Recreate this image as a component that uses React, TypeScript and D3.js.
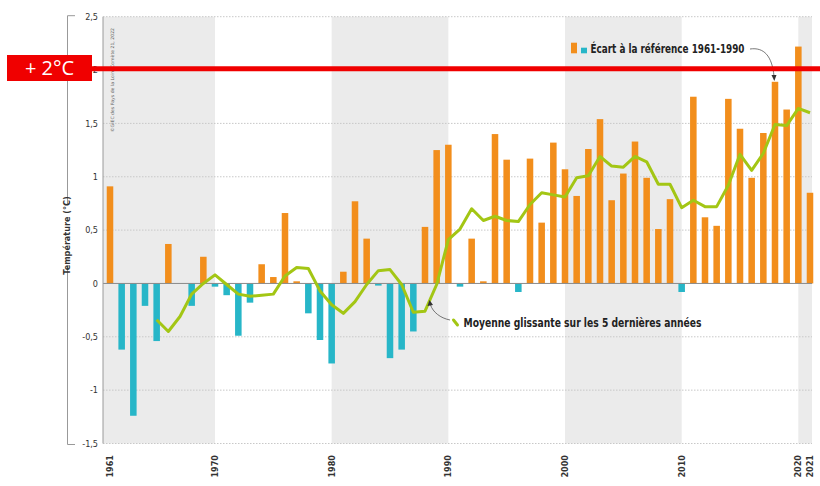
import * as d3 from 'd3';
import * as React from 'react';

// Écart de température annuel par rapport à la référence 1961-1990 (°C)
const firstYear = 1961;
const anomalies: number[] = [
    0.91, -0.62, -1.24, -0.21, -0.54, 0.37, 0.0, -0.21, 0.25, -0.03,
    -0.11, -0.49, -0.18, 0.18, 0.06, 0.66, 0.02, -0.28, -0.53, -0.75,
    0.11, 0.77, 0.42, -0.02, -0.70, -0.62, -0.45, 0.53, 1.25, 1.30,
    -0.03, 0.42, 0.02, 1.40, 1.16, -0.08, 1.17, 0.57, 1.32, 1.07,
    0.82, 1.26, 1.54, 0.78, 1.03, 1.33, 0.99, 0.51, 0.79, -0.08,
    1.75, 0.62, 0.54, 1.73, 1.45, 0.99, 1.41, 1.89, 1.63, 2.22,
    0.85,
];

// Moyenne glissante sur 5 ans, à partir de 1965
const movingStart = 1965;
const movingAverage: number[] = [
    -0.34, -0.45, -0.31, -0.10, 0.00, 0.08, -0.01, -0.10, -0.12, -0.11,
    -0.10, 0.07, 0.15, 0.14, -0.07, -0.20, -0.28, -0.17, -0.01, 0.12,
    0.13, -0.01, -0.27, -0.26, -0.01, 0.41, 0.51, 0.70, 0.59, 0.63,
    0.59, 0.58, 0.74, 0.85, 0.83, 0.81, 0.99, 1.01, 1.19, 1.10,
    1.09, 1.19, 1.14, 0.93, 0.93, 0.71, 0.78, 0.72, 0.72, 0.92,
    1.21, 1.06, 1.22, 1.49, 1.48, 1.64, 1.60,
];

const yTicks: number[] = [2.5, 2, 1.5, 1, 0.5, 0, -0.5, -1, -1.5];
const xTickYears: number[] = [1961, 1970, 1980, 1990, 2000, 2010, 2020, 2021];
const shadedDecades: number[][] = [[1960, 1970], [1980, 1990], [2000, 2010], [2020, 2030]];

const lastYear = firstYear + anomalies.length - 1;

const width = 820;
const height = 486;
const plotLeft = 103;
const plotRight = 812;

const font = "'DejaVu Sans Condensed', 'DejaVu Sans', sans-serif";
const orange = '#f28e1c';
const teal = '#27b6c8';
const green = '#a3c614';

const x = d3.scaleLinear().domain([firstYear, lastYear]).range([110, 810]);
const y = d3.scaleLinear().domain([-1.5, 2.5]).range([443.5, 16.7]);

const frFormat = (v: number) => String(v).replace('.', ',');

export default function App() {
    const step = x(firstYear + 1) - x(firstYear);
    const barW = step * 0.56;

    const line = d3.line<number>()
        .x((_, i) => x(movingStart + i))
        .y(d => y(d));

    return (
        <div style={{ position: 'absolute', left: 0, top: 0, width, height, background: '#fff' }}>
            <svg width={width} height={height}
                style={{ display: 'block', fontFamily: font, fontStretch: 'condensed' }}>
                {/* bandes grises par décennie */}
                {shadedDecades.map(([a, b]) => {
                    const x0 = Math.max(plotLeft, x(a));
                    const x1 = Math.min(plotRight, x(b));
                    return (
                        <rect key={a} x={x0} y={y(2.5)} width={x1 - x0} height={y(-1.5) - y(2.5)} fill="#ebebeb" />
                    );
                })}

                {/* grille */}
                {yTicks.filter(t => t !== 0).map(t => (
                    <line key={t} x1={plotLeft} x2={plotRight} y1={y(t)} y2={y(t)}
                        stroke="#c8c8c8" strokeWidth={1} strokeDasharray="1.5,1.5" />
                ))}

                {/* barres */}
                {anomalies.map((v, i) => {
                    const yr = firstYear + i;
                    return (
                        <rect key={yr}
                            x={x(yr) - barW / 2}
                            y={v >= 0 ? y(v) : y(0)}
                            width={barW}
                            height={Math.abs(y(v) - y(0))}
                            fill={v >= 0 ? orange : teal} />
                    );
                })}

                <line x1={plotLeft} x2={plotRight} y1={y(0)} y2={y(0)} stroke="#8a8a8a" strokeWidth={1} />
                <line x1={plotLeft} x2={plotLeft} y1={y(2.5)} y2={y(-1.5)} stroke="#9a9a9a" strokeWidth={1} />

                {/* moyenne glissante */}
                <path d={line(movingAverage) || ''} fill="none" stroke={green} strokeWidth={3} strokeLinejoin="round" />

                {/* axe y */}
                {yTicks.map(t => (
                    <text key={t} x={98} y={y(t)} dy="0.35em" textAnchor="end" fontSize={9} fill="#333">
                        {frFormat(t)}
                    </text>
                ))}
                <path d={`M75,${y(2.5) - 1}H67.5V205`} fill="none" stroke="#999" strokeWidth={1} />
                <path d={`M67.5,266V${y(-1.5) + 1}H75`} fill="none" stroke="#999" strokeWidth={1} />
                <text transform={`translate(66.5,${(205 + 266) / 2}) rotate(-90)`} textAnchor="middle" dy="0.35em"
                    fontSize={9} fill="#333" fontWeight="bold">
                    Température (°C)
                </text>

                {/* axe x */}
                {xTickYears.map(yr => (
                    <text key={yr} transform={`translate(${x(yr)},455) rotate(-90)`} textAnchor="end" dy="0.35em"
                        fontSize={9} fontWeight="bold" fill="#333">
                        {yr}
                    </text>
                ))}

                {/* crédit */}
                <text transform="translate(112.5,132) rotate(-90)" fontSize={4.5} fill="#666" dy="0.35em"
                    textLength={104} lengthAdjust="spacingAndGlyphs">
                    ©GIEC des Pays de la Loire Comète 21, 2022
                </text>

                {/* légende barres */}
                <rect x={571} y={42.7} width={6} height={10.6} fill={orange} />
                <rect x={581} y={47.7} width={6} height={5.6} fill={teal} />
                <text x={590.5} y={53.3} fontSize={12.5} fontWeight="bold" fill="#222"
                    textLength={154} lengthAdjust="spacingAndGlyphs">
                    Écart à la référence 1961-1990
                </text>
                <path d="M750,49 C764,47 772,56 774,76" fill="none" stroke="#555" strokeWidth={0.8} />
                <path d="M771.5,75 L774.3,81 L776.5,75 Z" fill="#333" />

                {/* légende moyenne */}
                <line x1={453.5} y1={320} x2={457.5} y2={325} stroke={green} strokeWidth={3} strokeLinecap="round" />
                <text x={463.5} y={326.7} fontSize={12.5} fontWeight="bold" fill="#222"
                    textLength={238} lengthAdjust="spacingAndGlyphs">
                    Moyenne glissante sur les 5 dernières années
                </text>
                <path d="M450,320 C440,318 433,312 430.5,305" fill="none" stroke="#555" strokeWidth={0.8} />
                <path d="M427.5,306 L429.5,300 L433,305 Z" fill="#333" />

                {/* seuil +2 °C */}
                <line x1={90} x2={width} y1={y(2) - 1.3} y2={y(2) - 1.3} stroke="#f00000" strokeWidth={5} />
                <rect x={7} y={55} width={85} height={26} fill="#f00000" />
                <text x={49.5} y={68} dy="0.36em" textAnchor="middle" fontFamily="'Open Sans', 'Noto Sans', sans-serif"
                    fontSize={20} fill="#fff" style={{ fontStretch: 'normal' }}>
                    + 2°C
                </text>
            </svg>
        </div>
    );
}
